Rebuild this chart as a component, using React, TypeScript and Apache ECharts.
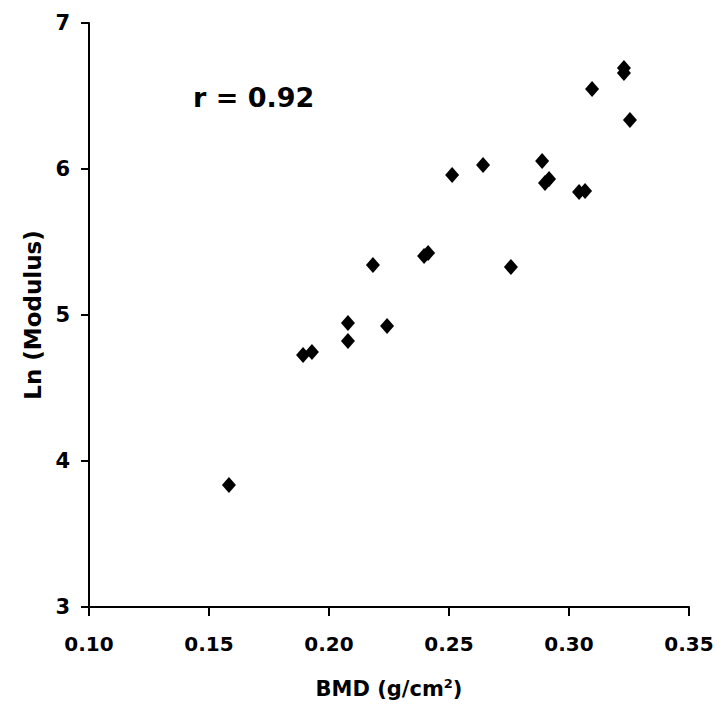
import React, { useEffect, useRef } from "react";
import * as echarts from "echarts";

const bmd = [
  0.1583, 0.1892, 0.1929, 0.2079, 0.2079, 0.2183, 0.2242, 0.2396, 0.2413, 0.2513,
  0.2642, 0.2758, 0.2888, 0.29, 0.2917, 0.3042, 0.3067, 0.3096, 0.3229, 0.3229, 0.3254,
];
const lnModulus = [
  3.836, 4.726, 4.747, 4.945, 4.822, 5.342, 4.925, 5.404, 5.425, 5.959,
  6.027, 5.329, 6.055, 5.904, 5.932, 5.842, 5.849, 6.548, 6.692, 6.658, 6.336,
];
const xTicks = ["0.10", "0.15", "0.20", "0.25", "0.30", "0.35"];
const yTicks = ["3", "4", "5", "6", "7"];
const corrLabel = "r = 0.92";

const FONT = "DejaVu Sans";

export default function App() {
  const ref = useRef<HTMLDivElement>(null);
  useEffect(() => {
    if (!ref.current) return;
    const chart = echarts.init(ref.current, null, { renderer: "svg" });
    const points = bmd.map((x, i) => [x, lnModulus[i]]);
    chart.setOption({
      animation: false,
      backgroundColor: "#ffffff",
      grid: { left: 89, right: 39, top: 23, bottom: 115, containLabel: false },
      xAxis: {
        type: "value",
        min: 0.1,
        max: 0.35,
        interval: 0.05,
        name: "{a|BMD (g/cm}{b|2}{a|)}",
        nameLocation: "middle",
        nameGap: 70,
        nameTextStyle: {
          rich: {
            a: { fontFamily: FONT, fontWeight: "bold", fontSize: 21, color: "#000" },
            b: { fontFamily: FONT, fontWeight: "bold", fontSize: 13, color: "#000", verticalAlign: "top", padding: [0, 0, 10, 0] },
          },
        },
        axisLine: { show: true, onZero: false, lineStyle: { color: "#000", width: 2 } },
        axisTick: { show: true, inside: false, length: 9, lineStyle: { color: "#000", width: 2 } },
        axisLabel: {
          margin: 27,
          fontFamily: FONT,
          fontWeight: "bold",
          fontSize: 20,
          color: "#000",
          formatter: (v: number) => {
            const idx = Math.round((v - 0.1) / 0.05);
            return xTicks[idx] ?? "";
          },
        },
        splitLine: { show: false },
      },
      yAxis: {
        type: "value",
        min: 3,
        max: 7,
        interval: 1,
        name: "Ln (Modulus)",
        nameLocation: "middle",
        nameGap: 44,
        nameTextStyle: { fontFamily: FONT, fontWeight: "bold", fontSize: 23, color: "#000" },
        axisLine: { show: true, onZero: false, lineStyle: { color: "#000", width: 2 } },
        axisTick: { show: true, inside: false, length: 8, lineStyle: { color: "#000", width: 2 } },
        axisLabel: {
          margin: 19,
          fontFamily: FONT,
          fontWeight: "bold",
          fontSize: 21,
          color: "#000",
          formatter: (v: number) => yTicks[Math.round(v - 3)] ?? "",
        },
        splitLine: { show: false },
      },
      graphic: [
        {
          type: "text",
          left: 193,
          top: 84,
          style: {
            text: corrLabel,
            fontFamily: FONT,
            fontWeight: "bold",
            fontSize: 27,
            fill: "#000",
          },
        },
      ],
      series: [
        {
          type: "scatter",
          data: points,
          symbol: "diamond",
          symbolSize: [14, 16],
          itemStyle: { color: "#000", opacity: 1 },
          emphasis: { disabled: true },
        },
      ],
    });
    return () => chart.dispose();
  }, []);
  return <div ref={ref} style={{ width: 728, height: 722, position: "absolute", left: 0, top: 0 }} />;
}
